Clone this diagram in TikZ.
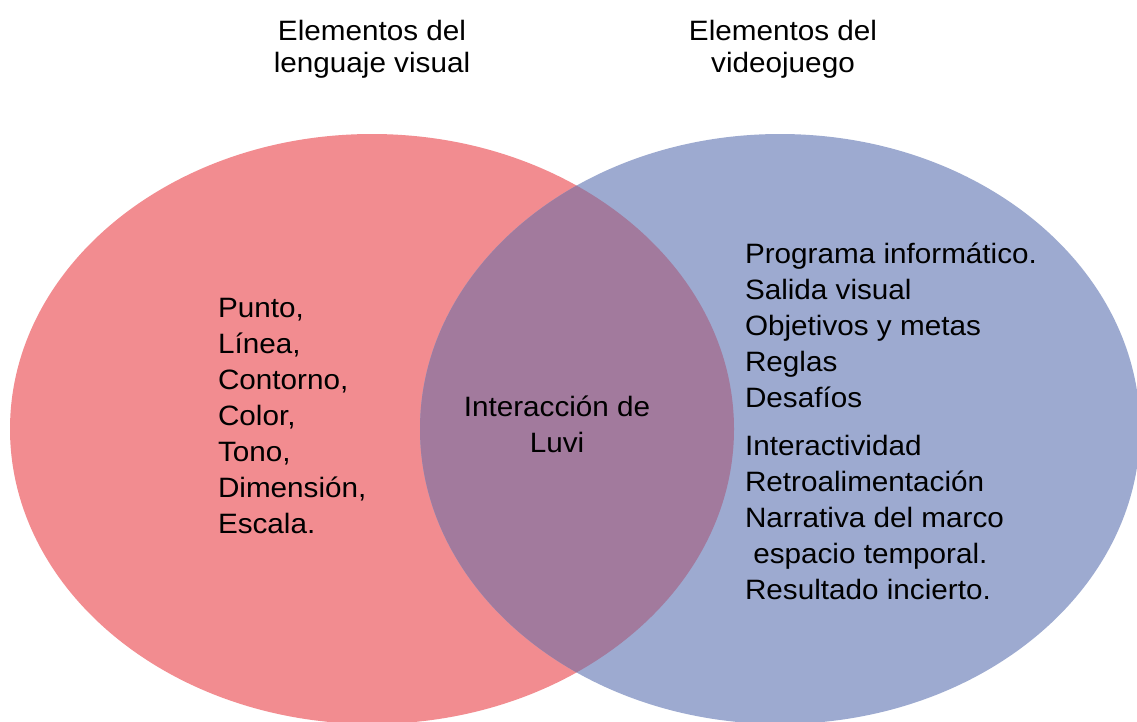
\documentclass[tikz,border=0pt]{standalone}
\usepackage{fontspec}
\setmainfont{Liberation Sans}[FakeStretch=1.06]
\definecolor{vred}{RGB}{242,140,144}
\definecolor{vblue}{RGB}{157,170,208}
\definecolor{vmix}{RGB}{162,122,157}
\begin{document}
\begin{tikzpicture}[x=1pt,y=-1pt,
  txt/.style={inner sep=0pt, outer sep=0pt, font=\fontsize{28}{36}\selectfont},
  ttl/.style={inner sep=0pt, outer sep=0pt, font=\fontsize{28}{32}\selectfont}]
\useasboundingbox (0,0) rectangle (1137,721);
\clip (0,0) rectangle (1137,721);
\fill[white] (0,0) rectangle (1137,721);
% ellipses
\coordinate (cl) at (372,429);
\coordinate (cr) at (780,429);
\fill[vred] (cl) ellipse [x radius=362pt, y radius=295pt];
\fill[vblue] (cr) ellipse [x radius=360pt, y radius=295pt];
\begin{scope}
  \clip (cl) ellipse [x radius=362pt, y radius=295pt];
  \fill[vmix] (cr) ellipse [x radius=360pt, y radius=295pt];
\end{scope}
% titles
\node[ttl, anchor=base] (tl) at (372,40) {\begin{tabular}[t]{@{}c@{}}Elementos del\\lenguaje visual\end{tabular}};
\node[ttl, anchor=base] (tr) at (783,40) {\begin{tabular}[t]{@{}c@{}}Elementos del\\videojuego\end{tabular}};
% left list
\node[txt, anchor=base west] (ll) at (218,317) {\begin{tabular}[t]{@{}l@{}}Punto,\\Línea,\\Contorno,\\Color,\\Tono,\\Dimensión,\\Escala.\end{tabular}};
% middle
\node[txt, anchor=base] (mid) at (557,416) {\begin{tabular}[t]{@{}c@{}}Interacción de\\Luvi\end{tabular}};
% right list
\node[txt, anchor=base west] (rl) at (745,263) {\begin{tabular}[t]{@{}l@{}}Programa informático.\\Salida visual\\Objetivos y metas\\Reglas\\Desafíos\\[12pt]Interactividad\\Retroalimentación\\Narrativa del marco\\\ espacio temporal.\\Resultado incierto.\end{tabular}};
\end{tikzpicture}
\end{document}
